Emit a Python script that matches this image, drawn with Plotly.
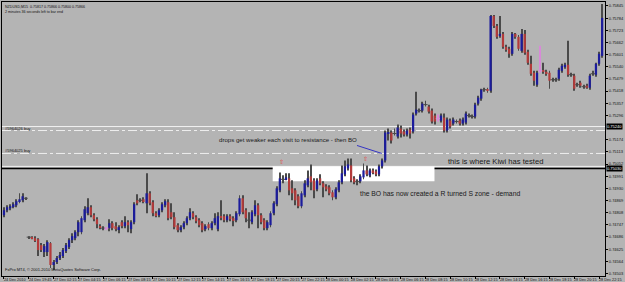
import plotly.graph_objects as go

# ---------------- data (NZDUSD, M15) ----------------
opens = [
    0.74795, 0.74820, 0.74830, 0.74840, 0.74845, 0.74865, 0.74870, 0.74880,
    0.74685, 0.74685, 0.74680, 0.74675, 0.74645, 0.74610, 0.74610, 0.74655,
    0.74545, 0.74560, 0.74580, 0.74590, 0.74615, 0.74635, 0.74670, 0.74680,
    0.74710, 0.74710, 0.74770, 0.74805, 0.74835, 0.74795, 0.74775, 0.74740,
    0.74730, 0.74730, 0.74730, 0.74755, 0.74740, 0.74725, 0.74760, 0.74740,
    0.74760, 0.74725, 0.74760, 0.74870, 0.74870, 0.74875, 0.74855, 0.74905,
    0.74860, 0.74805, 0.74795, 0.74820, 0.74845, 0.74860, 0.74810, 0.74785,
    0.74745, 0.74720, 0.74735, 0.74755, 0.74780, 0.74805, 0.74785, 0.74770,
    0.74755, 0.74725, 0.74750, 0.74730, 0.74755, 0.74725, 0.74790, 0.74790,
    0.74770, 0.74790, 0.74780, 0.74770, 0.74800, 0.74880, 0.74820, 0.74770,
    0.74760, 0.74800, 0.74845, 0.74795, 0.74770, 0.74730, 0.74745, 0.74805,
    0.74850, 0.74920, 0.74975, 0.74975, 0.74980, 0.74930, 0.74920, 0.74890,
    0.74840, 0.74895, 0.74945, 0.74990, 0.74970, 0.74925, 0.74980, 0.74955,
    0.74940, 0.74935, 0.74910, 0.74885, 0.74920, 0.74960, 0.75000, 0.75030,
    0.75045, 0.74980, 0.74965, 0.74965, 0.74985, 0.75020, 0.74995, 0.75020,
    0.75015, 0.75000, 0.75040, 0.75070, 0.75205, 0.75210, 0.75205, 0.75190,
    0.75230, 0.75215, 0.75200, 0.75225, 0.75215, 0.75305, 0.75320, 0.75320,
    0.75350, 0.75340, 0.75320, 0.75295, 0.75280, 0.75270, 0.75285, 0.75220,
    0.75270, 0.75255, 0.75265, 0.75270, 0.75255, 0.75260, 0.75295, 0.75290,
    0.75290, 0.75355, 0.75380, 0.75425, 0.75425, 0.75420, 0.75795, 0.75745,
    0.75695, 0.75705, 0.75640, 0.75630, 0.75605, 0.75705, 0.75690, 0.75620,
    0.75705, 0.75615, 0.75555, 0.75510, 0.75450, 0.75520, 0.75520, 0.75515,
    0.75510, 0.75475, 0.75475, 0.75480, 0.75520, 0.75540, 0.75550, 0.75500,
    0.75495, 0.75450, 0.75460, 0.75440, 0.75445, 0.75435, 0.75505, 0.75500,
    0.75555, 0.75595,
]
highs = [
    0.74835, 0.74845, 0.74850, 0.74860, 0.74875, 0.74905, 0.74905, 0.74885,
    0.74690, 0.74690, 0.74690, 0.74680, 0.74655, 0.74650, 0.74670, 0.74660,
    0.74570, 0.74590, 0.74610, 0.74630, 0.74655, 0.74680, 0.74705, 0.74720,
    0.74770, 0.74790, 0.74840, 0.74880, 0.74845, 0.74805, 0.74785, 0.74750,
    0.74740, 0.74735, 0.74775, 0.74765, 0.74760, 0.74745, 0.74770, 0.74790,
    0.74770, 0.74770, 0.74860, 0.74900, 0.74880, 0.74885, 0.75005, 0.74915,
    0.74870, 0.74815, 0.74830, 0.74860, 0.74875, 0.74875, 0.74855, 0.74810,
    0.74755, 0.74745, 0.74765, 0.74790, 0.74830, 0.74815, 0.74795, 0.74780,
    0.74765, 0.74750, 0.74760, 0.74765, 0.74805, 0.74810, 0.74870, 0.74800,
    0.74800, 0.74800, 0.74790, 0.74815, 0.74895, 0.74895, 0.74830, 0.74810,
    0.74820, 0.74870, 0.74855, 0.74805, 0.74780, 0.74770, 0.74815, 0.74865,
    0.74940, 0.75010, 0.74995, 0.75005, 0.75005, 0.74970, 0.74930, 0.74900,
    0.74915, 0.74970, 0.75020, 0.75050, 0.74980, 0.74980, 0.75000, 0.74965,
    0.74950, 0.74945, 0.74920, 0.74935, 0.74970, 0.75045, 0.75070, 0.75080,
    0.75080, 0.74990, 0.74975, 0.75000, 0.75055, 0.75045, 0.75030, 0.75030,
    0.75025, 0.75050, 0.75080, 0.75220, 0.75230, 0.75220, 0.75230, 0.75250,
    0.75245, 0.75225, 0.75230, 0.75235, 0.75310, 0.75415, 0.75330, 0.75365,
    0.75370, 0.75350, 0.75330, 0.75305, 0.75300, 0.75305, 0.75305, 0.75285,
    0.75280, 0.75285, 0.75275, 0.75280, 0.75285, 0.75315, 0.75305, 0.75300,
    0.75360, 0.75395, 0.75430, 0.75435, 0.75435, 0.75800, 0.75800, 0.75755,
    0.75795, 0.75715, 0.75650, 0.75640, 0.75715, 0.75710, 0.75700, 0.75730,
    0.75725, 0.75625, 0.75595, 0.75520, 0.75520, 0.75645, 0.75560, 0.75525,
    0.75520, 0.75485, 0.75485, 0.75535, 0.75555, 0.75560, 0.75670, 0.75510,
    0.75505, 0.75460, 0.75470, 0.75450, 0.75455, 0.75505, 0.75520, 0.75560,
    0.75615, 0.75855,
]
lows = [
    0.74785, 0.74810, 0.74820, 0.74830, 0.74835, 0.74855, 0.74860, 0.74875,
    0.74680, 0.74675, 0.74660, 0.74590, 0.74610, 0.74585, 0.74590, 0.74530,
    0.74520, 0.74550, 0.74570, 0.74580, 0.74605, 0.74625, 0.74655, 0.74670,
    0.74690, 0.74700, 0.74760, 0.74795, 0.74785, 0.74765, 0.74730, 0.74725,
    0.74720, 0.74725, 0.74715, 0.74720, 0.74715, 0.74705, 0.74730, 0.74730,
    0.74710, 0.74705, 0.74750, 0.74845, 0.74860, 0.74855, 0.74805, 0.74845,
    0.74790, 0.74785, 0.74785, 0.74810, 0.74835, 0.74770, 0.74775, 0.74725,
    0.74710, 0.74710, 0.74725, 0.74745, 0.74770, 0.74775, 0.74755, 0.74735,
    0.74710, 0.74715, 0.74720, 0.74720, 0.74745, 0.74715, 0.74770, 0.74760,
    0.74760, 0.74765, 0.74740, 0.74760, 0.74790, 0.74800, 0.74760, 0.74730,
    0.74750, 0.74790, 0.74730, 0.74750, 0.74720, 0.74720, 0.74735, 0.74795,
    0.74840, 0.74910, 0.74955, 0.74970, 0.74895, 0.74870, 0.74845, 0.74830,
    0.74830, 0.74885, 0.74935, 0.74920, 0.74880, 0.74915, 0.74945, 0.74885,
    0.74915, 0.74895, 0.74870, 0.74875, 0.74910, 0.74950, 0.74990, 0.75020,
    0.74960, 0.74950, 0.74945, 0.74955, 0.74975, 0.74990, 0.74985, 0.75000,
    0.74990, 0.74990, 0.75030, 0.75060, 0.75170, 0.75155, 0.75195, 0.75180,
    0.75185, 0.75190, 0.75190, 0.75180, 0.75205, 0.75295, 0.75310, 0.75310,
    0.75340, 0.75305, 0.75255, 0.75250, 0.75265, 0.75260, 0.75210, 0.75210,
    0.75230, 0.75245, 0.75255, 0.75245, 0.75245, 0.75250, 0.75285, 0.75280,
    0.75280, 0.75345, 0.75370, 0.75415, 0.75410, 0.75410, 0.75735, 0.75680,
    0.75685, 0.75630, 0.75615, 0.75585, 0.75595, 0.75680, 0.75620, 0.75610,
    0.75600, 0.75550, 0.75495, 0.75445, 0.75440, 0.75510, 0.75505, 0.75495,
    0.75430, 0.75465, 0.75465, 0.75470, 0.75510, 0.75530, 0.75490, 0.75490,
    0.75420, 0.75440, 0.75435, 0.75430, 0.75430, 0.75425, 0.75495, 0.75490,
    0.75545, 0.75585,
]
closes = [
    0.74820, 0.74835, 0.74840, 0.74850, 0.74865, 0.74875, 0.74890, 0.74880,
    0.74685, 0.74680, 0.74670, 0.74620, 0.74620, 0.74640, 0.74660, 0.74545,
    0.74560, 0.74580, 0.74595, 0.74620, 0.74645, 0.74670, 0.74690, 0.74710,
    0.74760, 0.74780, 0.74825, 0.74835, 0.74795, 0.74775, 0.74750, 0.74735,
    0.74730, 0.74730, 0.74755, 0.74730, 0.74725, 0.74735, 0.74740, 0.74760,
    0.74745, 0.74760, 0.74850, 0.74855, 0.74870, 0.74865, 0.74905, 0.74855,
    0.74805, 0.74795, 0.74820, 0.74850, 0.74865, 0.74780, 0.74785, 0.74735,
    0.74720, 0.74735, 0.74755, 0.74780, 0.74810, 0.74785, 0.74765, 0.74745,
    0.74720, 0.74740, 0.74730, 0.74755, 0.74780, 0.74790, 0.74785, 0.74770,
    0.74790, 0.74775, 0.74770, 0.74805, 0.74880, 0.74810, 0.74780, 0.74770,
    0.74810, 0.74845, 0.74795, 0.74760, 0.74730, 0.74760, 0.74805, 0.74855,
    0.74930, 0.74980, 0.74975, 0.74985, 0.74920, 0.74905, 0.74870, 0.74840,
    0.74905, 0.74955, 0.74980, 0.74960, 0.74920, 0.74970, 0.74955, 0.74935,
    0.74925, 0.74905, 0.74885, 0.74925, 0.74960, 0.75005, 0.75040, 0.75050,
    0.74970, 0.74960, 0.74965, 0.74990, 0.75020, 0.75000, 0.75020, 0.75010,
    0.75000, 0.75040, 0.75070, 0.75210, 0.75210, 0.75170, 0.75205, 0.75235,
    0.75205, 0.75200, 0.75220, 0.75205, 0.75300, 0.75325, 0.75320, 0.75355,
    0.75350, 0.75315, 0.75265, 0.75265, 0.75280, 0.75295, 0.75220, 0.75275,
    0.75240, 0.75275, 0.75265, 0.75255, 0.75275, 0.75305, 0.75295, 0.75290,
    0.75350, 0.75385, 0.75425, 0.75425, 0.75420, 0.75795, 0.75745, 0.75690,
    0.75705, 0.75640, 0.75625, 0.75605, 0.75705, 0.75690, 0.75630, 0.75705,
    0.75610, 0.75560, 0.75505, 0.75470, 0.75510, 0.75520, 0.75515, 0.75505,
    0.75470, 0.75475, 0.75475, 0.75525, 0.75545, 0.75550, 0.75500, 0.75500,
    0.75430, 0.75450, 0.75445, 0.75440, 0.75435, 0.75495, 0.75505, 0.75555,
    0.75605, 0.75785,
]
pink_bars = [33, 140, 173]

time_labels = [
    "24 Dec 2010", "24 Dec 19:45", "27 Dec 02:15", "27 Dec 04:15", "27 Dec 06:15",
    "27 Dec 08:15", "27 Dec 10:15", "27 Dec 12:15", "27 Dec 14:15", "27 Dec 16:15",
    "27 Dec 18:15", "27 Dec 20:15", "27 Dec 22:15", "28 Dec 00:15", "28 Dec 02:15",
    "28 Dec 04:15", "28 Dec 06:15", "28 Dec 08:15", "28 Dec 10:15", "28 Dec 12:15",
    "28 Dec 14:15", "28 Dec 16:15", "28 Dec 18:15", "28 Dec 20:15", "28 Dec 22:15",
]
bars_per_label = 8

price_ticks = [
    0.75845, 0.75784, 0.75723, 0.75662, 0.75601, 0.75540, 0.75479, 0.75418,
    0.75357, 0.75296, 0.75174, 0.75113, 0.75052, 0.74991, 0.74930,
    0.74869, 0.74808, 0.74747, 0.74686, 0.74625, 0.74564, 0.74503,
]

# horizontal objects (prices)
white_line_price = 0.75240
order_lines = [(0.75220, "#5964026 buy"), (0.75105, "#5964025 buy")]
zone_top_line = 0.75040
resistance_price = 0.75030
zone = dict(x0=86.7, x1=138.9, y0=0.74965, y1=0.75040)

# ---------------- styling ----------------
BG = "#b4b4b4"
BULL = "#1c1c9c"
BEAR = "#b33a3a"
WICK = "#4a4a4a"
PINK = "#d88ad8"
FONT = "Liberation Sans"

n = len(closes)
xs = list(range(n))

wick_len = [h - l for h, l in zip(highs, lows)]
wick_col = [PINK if i in pink_bars else WICK for i in xs]
body_base = [min(o, c) for o, c in zip(opens, closes)]
body_len = [abs(c - o) for o, c in zip(opens, closes)]
body_col = []
for i in xs:
    if i in pink_bars:
        body_col.append(PINK)
    elif closes[i] >= opens[i]:
        body_col.append(BULL)
    else:
        body_col.append(BEAR)

fig = go.Figure()
# wicks (thin bars from low to high), then bodies on top
fig.add_trace(go.Bar(x=xs, y=wick_len, base=lows, width=0.3,
                     marker=dict(color=wick_col, line=dict(width=0)),
                     hoverinfo="skip", showlegend=False))
fig.add_trace(go.Bar(x=xs, y=body_len, base=body_base, width=0.72,
                     marker=dict(color=body_col, line=dict(width=0)),
                     hoverinfo="skip", showlegend=False))
# doji marks (open == close) as short horizontal ticks
doji = [i for i in xs if opens[i] == closes[i]]
fig.add_trace(go.Scatter(x=doji, y=[closes[i] for i in doji], mode="markers",
                         marker=dict(symbol="line-ew", size=3,
                                     line=dict(width=1, color=[PINK if i in pink_bars else WICK for i in doji])),
                         hoverinfo="skip", showlegend=False))

shapes = []
shapes.append(dict(type="rect", xref="x", yref="y", layer="below",
                   x0=zone["x0"], x1=zone["x1"], y0=zone["y0"], y1=zone["y1"],
                   fillcolor="white", line=dict(width=0)))
shapes.append(dict(type="line", xref="paper", yref="y", layer="below", x0=0, x1=1,
                   y0=white_line_price, y1=white_line_price,
                   line=dict(color="#f2f2f2", width=1)))
shapes.append(dict(type="line", xref="paper", yref="y", layer="below", x0=0, x1=1,
                   y0=zone_top_line, y1=zone_top_line,
                   line=dict(color="#f2f2f2", width=1)))
for p, _ in order_lines:
    shapes.append(dict(type="line", xref="paper", yref="y", layer="below", x0=0, x1=1,
                       y0=p, y1=p, line=dict(color="#eeeeee", width=1, dash="dashdot")))
shapes.append(dict(type="line", xref="paper", yref="y", layer="below", x0=0, x1=1,
                   y0=resistance_price, y1=resistance_price,
                   line=dict(color="black", width=1.5)))
shapes.append(dict(type="line", xref="x", yref="y", x0=113.9, y0=0.75145, x1=121.9, y1=0.75105,
                   line=dict(color="#3434c4", width=1)))

ann = []
small = dict(family=FONT, size=4, color="#111111")
ann.append(dict(xref="paper", yref="paper", x=0, y=1, xanchor="left", yanchor="top",
                xshift=1, yshift=-1, showarrow=False, align="left",
                text="NZDUSD,M15  0.75817 0.75866 0.75800 0.75866<br>2 minutes 36 seconds left to bar end",
                font=dict(family=FONT, size=3.6, color="#111111")))
ann.append(dict(xref="paper", yref="paper", x=0, y=0, xanchor="left", yanchor="bottom",
                xshift=1, yshift=2, showarrow=False,
                text="FxPro MT4, © 2001-2010 MetaQuotes Software Corp.", font=small))
for p, label in order_lines:
    ann.append(dict(xref="paper", yref="y", x=0, y=p, xanchor="left", yanchor="bottom",
                    xshift=1, yshift=-2, showarrow=False, text=label, font=small))
for k, lab in enumerate(time_labels):
    ann.append(dict(xref="x", yref="paper", x=k * bars_per_label, y=0, xanchor="left",
                    yanchor="top", xshift=-2, yshift=0, showarrow=False, text=lab,
                    font=dict(family=FONT, size=3.8, color="#111111")))
for p in (white_line_price, resistance_price):
    ann.append(dict(xref="paper", yref="y", x=1, y=p, xanchor="left", yanchor="middle",
                    xshift=1, showarrow=False, text=f"{p:.5f}", bgcolor="black",
                    borderpad=0, font=dict(family=FONT, size=4, color="white")))
txt = dict(family=FONT, color="#1a1a1a")
ann.append(dict(xref="x", yref="y", x=68.8, y=0.75175, xanchor="left", yanchor="middle",
                showarrow=False, text="drops get weaker each visit to resistance - then BO",
                font=dict(**txt, size=6.1)))
ann.append(dict(xref="x", yref="y", x=142.7, y=0.75065, xanchor="left", yanchor="middle",
                showarrow=False, text="this is where Kiwi has tested",
                font=dict(**txt, size=7.6)))
ann.append(dict(xref="x", yref="y", x=114.2, y=0.74905, xanchor="left", yanchor="middle",
                showarrow=False, text="the BO has now created a R turned S zone - demand",
                font=dict(**txt, size=6.8)))
for ax_, ay_ in ((89.6, 0.75065), (116.5, 0.75080)):
    ann.append(dict(xref="x", yref="y", x=ax_, y=ay_, showarrow=False, text="⇧",
                    font=dict(family="DejaVu Sans", size=6, color="#e03c3c")))

fig.update_layout(
    width=625, height=282,
    margin=dict(l=1, r=16, t=1, b=6),
    paper_bgcolor=BG, plot_bgcolor=BG,
    showlegend=False, shapes=shapes, annotations=ann,
    hovermode=False, barmode="overlay",
    xaxis=dict(range=[-0.64, 193.92], showgrid=False, zeroline=False,
               tickvals=[k * bars_per_label for k in range(len(time_labels))],
               showticklabels=False, ticks="outside", ticklen=2, tickcolor="black",
               showline=True, linecolor="black", linewidth=1, mirror=True),
    yaxis=dict(range=[0.74490, 0.75865], side="right", showgrid=False, zeroline=False,
               tickvals=price_ticks, ticktext=[f"{v:.5f}" for v in price_ticks],
               tickfont=dict(family=FONT, size=4, color="#111111"),
               ticks="outside", ticklen=2, tickcolor="black",
               showline=True, linecolor="black", linewidth=1, mirror=True),
)

fig.write_html("out.html", config={"displayModeBar": False})
